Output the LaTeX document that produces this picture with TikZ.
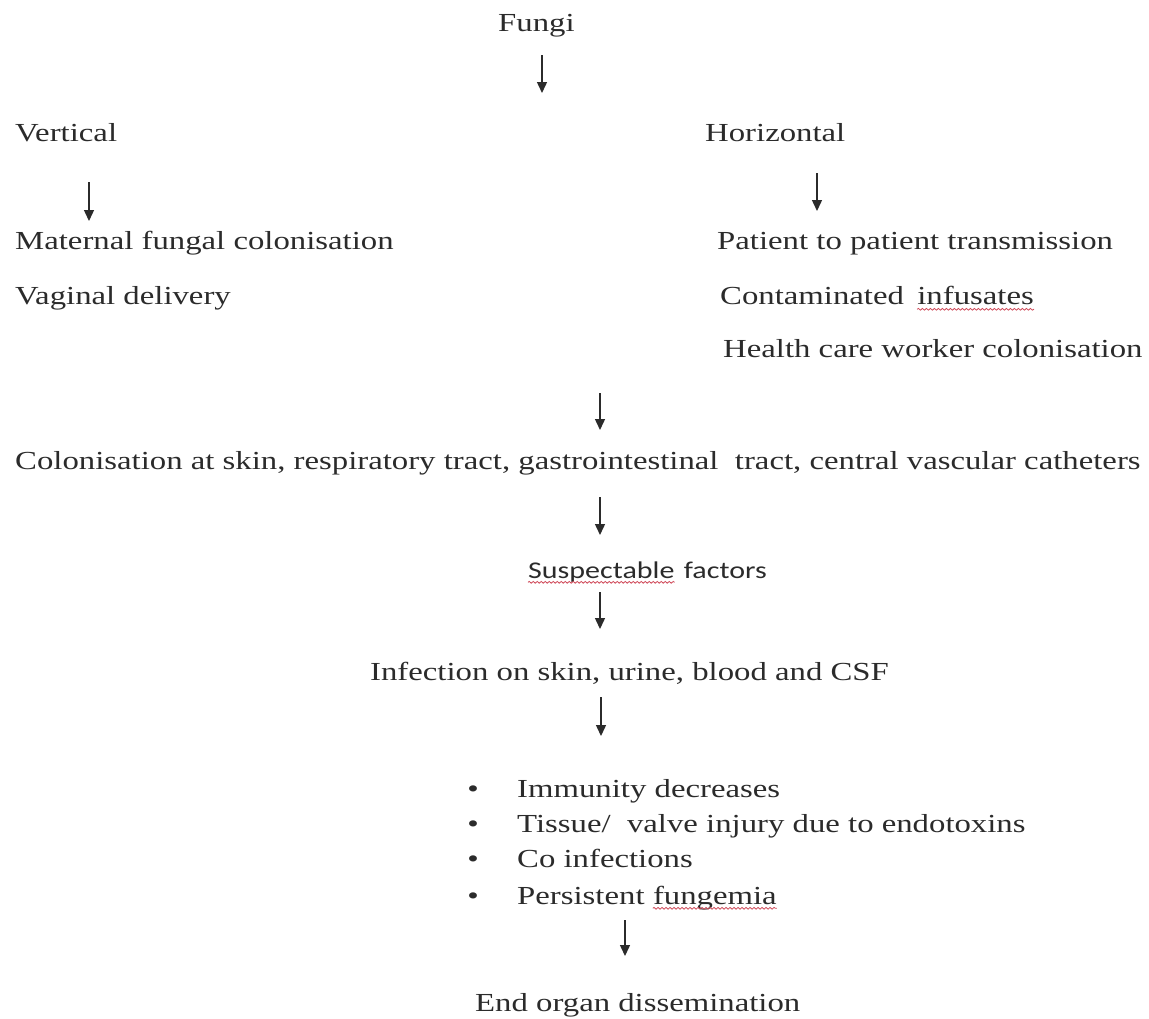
\documentclass[tikz,border=0pt]{standalone}
\usepackage{fontspec}
\setmainfont{Liberation Serif}[FakeStretch=1.26]
\newfontfamily\calib{Carlito}[FakeStretch=1.25]
\usetikzlibrary{arrows.meta,decorations.pathmorphing}
\definecolor{ink}{HTML}{2B2B2B}
\definecolor{spell}{HTML}{D04A5A}
\tikzset{
  txt/.style={inner sep=0pt, text=ink, font=\fontsize{26}{30}\selectfont, anchor=mid west},
  ctxt/.style={txt, anchor=mid},
  arr/.style={draw=ink, line width=1.4pt, -{Triangle[length=11pt,width=10pt]}},
  wavy/.style={draw=spell, line width=0.8pt, decorate, decoration={snake, amplitude=0.9pt, segment length=4pt}}
}
\begin{document}
\begin{tikzpicture}[x=1pt,y=-1pt]
\path[use as bounding box, fill=white] (0,0) rectangle (1149,1018);
% top
\node[txt] (fungi) at (498,29) {Fungi};
\coordinate (a1s) at (542,55); \coordinate (a1e) at (542,93);
\draw[arr] (a1s) -- (a1e);
\node[txt] (vert) at (15,139) {Vertical};
\node[txt] (horiz) at (705,139) {Horizontal};
\coordinate (a2s) at (89,182); \coordinate (a2e) at (89,221);
\draw[arr] (a2s) -- (a2e);
\coordinate (a3s) at (817,173); \coordinate (a3e) at (817,211);
\draw[arr] (a3s) -- (a3e);
% branches
\node[txt] (mat) at (15,247) {Maternal fungal colonisation};
\node[txt] (vag) at (15,302) {Vaginal delivery};
\node[txt] (pat) at (717,247) {Patient to patient transmission};
\node[txt] (cont) at (720,302) {Contaminated};
\node[txt, anchor=base west] (infus) at ([xshift=13pt]cont.base east) {infusates};
\draw[wavy] ([yshift=-5pt]infus.base west) -- ([yshift=-5pt]infus.base east);
\node[txt] (hcw) at (723,355) {Health care worker colonisation};
\coordinate (a4s) at (600,393); \coordinate (a4e) at (600,430);
\draw[arr] (a4s) -- (a4e);
\node[txt] (col) at (15,467) {Colonisation at skin, respiratory tract, gastrointestinal\ \ tract, central vascular catheters};
\coordinate (a5s) at (600,497); \coordinate (a5e) at (600,535);
\draw[arr] (a5s) -- (a5e);
\node[txt, font=\calib\fontsize{24}{28}\selectfont] (susp) at (528,576) {Suspectable};
\draw[wavy] ([yshift=-4pt]susp.base west) -- ([yshift=-4pt]susp.base east);
\node[txt, font=\calib\fontsize{24}{28}\selectfont, anchor=base west] (fact) at ([xshift=9pt]susp.base east) {factors};
\coordinate (a6s) at (600,592); \coordinate (a6e) at (600,629);
\draw[arr] (a6s) -- (a6e);
\node[txt] (infect) at (370,678) {Infection on skin, urine, blood and CSF};
\coordinate (a7s) at (601,697); \coordinate (a7e) at (601,736);
\draw[arr] (a7s) -- (a7e);
% bullets
\node[ctxt] (b1) at (473,795) {\textbullet};
\node[txt] (l1) at (517,795) {Immunity decreases};
\node[ctxt] (b2) at (473,830) {\textbullet};
\node[txt] (l2) at (517,830) {Tissue/\ \ valve injury due to endotoxins};
\node[ctxt] (b3) at (473,865) {\textbullet};
\node[txt] (l3) at (517,865) {Co infections};
\node[ctxt] (b4) at (473,902) {\textbullet};
\node[txt] (l4a) at (517,902) {Persistent};
\node[txt, anchor=base west] (l4b) at ([xshift=8pt]l4a.base east) {fungemia};
\draw[wavy] ([yshift=-4pt]l4b.base west) -- ([yshift=-4pt]l4b.base east);
\coordinate (a8s) at (625,920); \coordinate (a8e) at (625,956);
\draw[arr] (a8s) -- (a8e);
\node[txt] (endn) at (475,1009) {End organ dissemination};
\end{tikzpicture}
\end{document}
